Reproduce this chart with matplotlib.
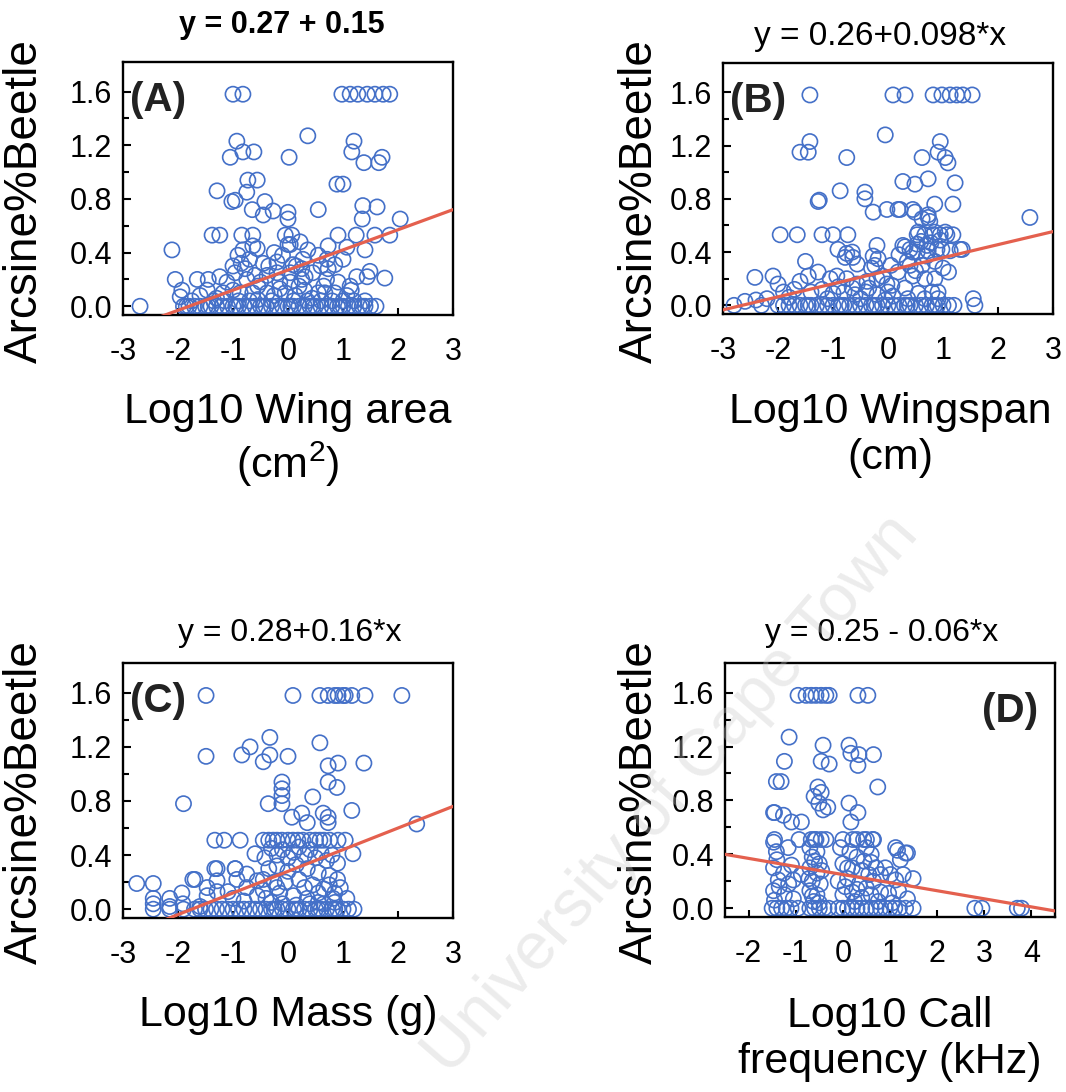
import numpy as np
import matplotlib
matplotlib.use("Agg")
from matplotlib import pyplot as plt

plt.rcParams["font.family"] = ["Liberation Sans", "DejaVu Sans"]
plt.rcParams["mathtext.default"] = "regular"
plt.rcParams["axes.unicode_minus"] = False

POINT_COLOR = "#4470c8"
LINE_COLOR = "#e4604e"

# (A) wing area
A_X = [-1.0, -0.82, 0.98, 1.13, 1.27, 1.44, 1.58, 1.73, 1.85,
       0.36, -0.93, -1.05, -0.82, -0.62, 0.02, 1.2, 1.16, 1.38, 1.65, 1.71,
       -1.29, -0.73, -0.56, -0.75, -1.02, -0.96, -0.65, -0.42, -0.45, -0.27,
       0.0, 0.0, 0.55, 0.89, 1.0, 1.36, 1.62, 1.35, 2.04,
       -1.38, -1.24, -0.84, -0.64, -0.05, 0.07, 0.91, 1.24, 1.58, 1.85,
       -2.11, -0.82, -0.91, -0.64, -0.56, 0.0, 0.22, 0.36, 0.04, 0.73, 1.07,
       1.4, 1.0, 0.71, 0.85, 0.27, 0.09, 0.31, 0.04, 0.04, 0.73, 0.91, 1.13,
       1.25, 1.44, 1.49, 1.76, 0.55, 0.67, 0.85, 1.07, 0.44, 0.13,
       -2.05, -1.65, -1.45, -1.24, -1.11, -1.0, -0.96, -0.78, -0.75, -0.6,
       -0.5, -0.38, -0.2, -1.93, -1.96, -1.47, -1.18, -1.0, -0.87, -0.64,
       -0.38, -0.15, -0.2, -0.35, -0.45, 0.15, 0.25, -0.25, -0.1, 0.55, 0.6,
       0.45, -0.7, -0.85, 0.3, -0.25, -0.55, -1.3, -1.6, 0.7, 0.2, -0.05,
       -1.75, -1.35, -1.15, -0.9, -0.7, -0.3, 0.1, 0.35, 0.6, 0.8, 1.0,
       1.2, 1.4, -0.55, -0.15, 0.25, 0.65, 1.15]
A_Y = [1.58, 1.58, 1.58, 1.58, 1.58, 1.58, 1.58, 1.58, 1.58,
       1.27, 1.23, 1.11, 1.15, 1.15, 1.11, 1.23, 1.15, 1.07, 1.07, 1.11,
       0.86, 0.94, 0.94, 0.85, 0.78, 0.79, 0.72, 0.78, 0.68, 0.71,
       0.70, 0.65, 0.72, 0.91, 0.91, 0.75, 0.74, 0.65, 0.65,
       0.53, 0.53, 0.53, 0.53, 0.53, 0.53, 0.53, 0.53, 0.53, 0.53,
       0.42, 0.42, 0.38, 0.45, 0.43, 0.46, 0.48, 0.42, 0.46, 0.45, 0.44,
       0.42, 0.35, 0.35, 0.31, 0.35, 0.31, 0.22, 0.25, 0.18, 0.28, 0.18, 0.15,
       0.22, 0.22, 0.26, 0.21, 0.10, 0.10, 0.10, 0.08, 0.06, 0.08,
       0.20, 0.20, 0.20, 0.22, 0.18, 0.30, 0.25, 0.28, 0.20, 0.23,
       0.18, 0.23, 0.25, 0.12, 0.07, 0.12, 0.10, 0.12, 0.10, 0.10,
       0.10, 0.13, 0.33, 0.30, 0.32, 0.30, 0.28, 0.40, 0.38, 0.38, 0.30,
       0.25, 0.35, 0.32, 0.12, 0.08, 0.05, 0.06, 0.08, 0.20, 0.15, 0.10,
       0.04, 0.04, 0.04, 0.04, 0.04, 0.04, 0.04, 0.04, 0.04, 0.04, 0.04,
       0.04, 0.04, 0.15, 0.18, 0.20, 0.15, 0.12]
A_ZERO = [-2.69, -1.9, -1.8, -1.7, -1.6, -1.5, -1.4, -1.3, -1.2, -1.1, -1.0,
          -0.9, -0.8, -0.7, -0.6, -0.5, -0.4, -0.3, -0.2, -0.1, 0.0, 0.1,
          0.2, 0.3, 0.4, 0.5, 0.6, 0.7, 0.8, 0.9, 1.0, 1.1, 1.2, 1.3, 1.4,
          1.5, 1.6, -1.85, -1.45, -0.95, -0.45, 0.05, 0.45, 0.95, 1.35]

# (B) wingspan
B_X = [-1.42, 0.09, 0.31, 0.82, 0.98, 1.13, 1.25, 1.36, 1.53,
       -0.05, -1.42, -1.6, -1.45, -0.75, 0.95, 0.91, 1.04, 1.09, 0.62,
       -0.87, -1.27, -1.25, -0.42, -0.42, -0.27, -0.02, 0.22, 0.45, 0.49,
       0.27, 0.49, 0.73, 1.22, 0.85, 1.18, 0.73, 0.76, 2.58, 0.18, 0.62, 0.73,
       -1.96, -1.65, -1.2, -1.0, -0.73, 0.53, 0.67, 0.82, 0.95, 1.07, 1.18,
       0.55, 0.85, 1.04,
       -0.91, -0.75, -0.64, -0.56, -0.27, -0.2, -0.18, 0.27, 0.4, 0.53, 0.71,
       0.89, 1.13, 1.31, -0.78, -0.65, -0.24, 1.35, 0.31, 0.53, 0.45, 0.73,
       0.98, 0.35, 0.62, 0.85, 1.0, 0.18, 0.45, 0.67, 0.85, 0.07, 0.31, 0.55,
       0.8, 0.91, 0.09, 0.36, 0.67, 0.91, 1.55,
       -2.42, -2.09, -2.0, -1.5, -1.45, -1.6, -1.27, -1.05, -0.93, -0.75,
       -0.56, -0.38, -0.2, -0.02, -2.6, -2.4, -2.2, -1.9, -1.7, -1.4, -1.2,
       -1.0, -0.8, -0.6, -0.4, -0.2, 0.0, -1.8, -1.1, -0.5, -0.3, 0.05, -0.1,
       0.6, 0.78, 0.95, 0.4, 0.7, 0.2, 0.5, -0.9, -0.65, -0.35, -0.05, 1.1]
B_Y = [1.58, 1.58, 1.58, 1.58, 1.58, 1.58, 1.58, 1.58, 1.58,
       1.28, 1.23, 1.15, 1.15, 1.11, 1.23, 1.15, 1.11, 1.07, 1.11,
       0.86, 0.78, 0.79, 0.85, 0.80, 0.70, 0.72, 0.72, 0.72, 0.70,
       0.93, 0.91, 0.95, 0.92, 0.76, 0.76, 0.66, 0.63, 0.66, 0.72, 0.65, 0.68,
       0.53, 0.53, 0.53, 0.53, 0.53, 0.53, 0.53, 0.53, 0.53, 0.53, 0.53,
       0.55, 0.55, 0.55,
       0.42, 0.39, 0.36, 0.31, 0.37, 0.45, 0.35, 0.45, 0.42, 0.40, 0.45,
       0.42, 0.41, 0.42, 0.36, 0.40, 0.30, 0.42, 0.44, 0.46, 0.40, 0.41,
       0.42, 0.33, 0.30, 0.33, 0.28, 0.25, 0.22, 0.20, 0.20, 0.15, 0.13, 0.09,
       0.10, 0.10, 0.07, 0.05, 0.05, 0.05, 0.05,
       0.21, 0.22, 0.16, 0.33, 0.22, 0.18, 0.25, 0.20, 0.22, 0.20,
       0.16, 0.18, 0.20, 0.16, 0.03, 0.04, 0.05, 0.10, 0.12, 0.10, 0.12,
       0.09, 0.10, 0.08, 0.10, 0.08, 0.10, 0.06, 0.05, 0.05, 0.28, 0.30, 0.22,
       0.48, 0.47, 0.49, 0.30, 0.37, 0.38, 0.26, 0.14, 0.13, 0.13, 0.04, 0.25]
B_ZERO = [-2.8, -2.3, -2.0, -1.9, -1.8, -1.7, -1.6, -1.5, -1.4, -1.3, -1.2,
          -1.1, -1.0, -0.9, -0.8, -0.7, -0.6, -0.5, -0.4, -0.3, -0.2, -0.1,
          0.0, 0.1, 0.2, 0.3, 0.4, 0.5, 0.6, 0.7, 0.8, 0.9, 1.0, 1.1, 1.2,
          1.58, -1.45, -0.85, -0.25, 0.35, 0.85]

# (C) mass
C_X = [-1.49, 0.09, 0.58, 0.73, 0.85, 0.91, 1.0, 1.04, 1.16, 1.4, 2.07,
       -1.49, -0.84, -0.69, -0.45, -0.33, -0.33, 0.0, 0.58, 0.73, 0.91, 1.38,
       -0.11, -0.11, -0.11, -0.11, -0.36, -1.9, 0.73, 0.89, 0.45, 0.07, 0.25,
       0.35, 0.64, 0.73, 0.73, 1.16, 2.34,
       -1.33, -1.16, -0.87, -0.45, -0.27, -0.11, 0.09, 0.27, 0.58, 0.76, 0.91,
       1.04, -0.35, -0.2, 0.0, 0.18, 0.4, 0.5, 0.65,
       1.18, -1.33, -0.96, -1.69, -0.6, -0.42, -0.3, -0.2, -0.1, 0.0, 0.1,
       0.2, 0.3, 0.4, 0.5, 0.6, 0.7, 0.8, 0.9, -0.35, -0.2, 0.0, 0.15, 0.35,
       0.55, 0.75, 0.9, -0.45, -0.25, -0.05, 0.2, 0.45, 0.65, 0.85, 1.07,
       0.82, -0.15, 0.1, 0.35, 0.55,
       -2.75, -2.45, -2.45, -2.45, -2.15, -2.15, -1.93, -1.91, -1.73, -1.47,
       -1.47, -1.6, -1.29, -1.29, -1.29, -1.09, -0.96, -0.93, -0.75, -0.75,
       -0.56, -0.56, -1.0, -0.8, -0.4,
       -0.3, -0.1, 0.15, 0.4, 0.65, 0.85, -0.45, -0.2, 0.3, 0.55, 0.75, 0.95]
C_Y = [1.58, 1.58, 1.58, 1.58, 1.58, 1.58, 1.58, 1.58, 1.58, 1.58, 1.58,
       1.13, 1.14, 1.20, 1.09, 1.27, 1.14, 1.13, 1.23, 1.06, 1.08, 1.08,
       0.94, 0.89, 0.84, 0.78, 0.78, 0.78, 0.94, 0.90, 0.83, 0.68, 0.71,
       0.64, 0.71, 0.68, 0.64, 0.73, 0.63,
       0.51, 0.51, 0.51, 0.51, 0.51, 0.51, 0.51, 0.51, 0.51, 0.51, 0.51,
       0.51, 0.51, 0.51, 0.51, 0.51, 0.51, 0.51, 0.51,
       0.41, 0.30, 0.30, 0.22, 0.41, 0.38, 0.45, 0.40, 0.44, 0.38, 0.42,
       0.46, 0.40, 0.44, 0.38, 0.42, 0.36, 0.40, 0.34, 0.30, 0.32, 0.28, 0.33,
       0.30, 0.27, 0.25, 0.22, 0.22, 0.20, 0.20, 0.22, 0.18, 0.15, 0.12, 0.08,
       0.08, 0.12, 0.10, 0.08, 0.05,
       0.19, 0.19, 0.08, 0.04, 0.08, 0.02, 0.12, 0.04, 0.22, 0.16,
       0.10, 0.02, 0.30, 0.21, 0.13, 0.13, 0.30, 0.22, 0.26, 0.16,
       0.21, 0.10, 0.08, 0.06, 0.08,
       0.05, 0.04, 0.03, 0.04, 0.04, 0.05, 0.14, 0.16, 0.16, 0.12, 0.18, 0.16]
C_ZERO = [-2.45, -2.15, -1.9, -1.7, -1.6, -1.5, -1.4, -1.3, -1.2, -1.1, -1.0,
          -0.9, -0.8, -0.7, -0.6, -0.5, -0.4, -0.3, -0.2, -0.1, 0.0, 0.1,
          0.2, 0.3, 0.4, 0.5, 0.6, 0.7, 0.8, 0.9, 1.0, 1.1, 1.2,
          -0.25, 0.15, 0.55, 0.85]

# (D) call frequency
D_X = [-0.95, -0.78, -0.67, -0.57, -0.46, -0.36, -0.29, 0.32, 0.53,
       -1.14, -1.24, -0.42, -0.46, -0.29, 0.13, 0.17, 0.34, 0.32, 0.65, 0.74,
       -1.41, -1.31, -0.53, -0.46, -0.61, -0.51, -0.42, -0.32, 0.13, 0.32,
       0.17, -1.47, -1.45, -1.26, -1.09, -0.88,
       -1.45, -0.93, -0.67, -0.57, -0.46, -0.36, 0.0, 0.21, 0.44, 0.63, 0.65,
       -0.6, 0.3, 0.5,
       1.12, 1.33, -1.47, -1.41, -1.16, -1.47, -1.26, -1.09, -1.37, -1.05,
       -0.88, -1.47, -1.24, -1.45, -1.05, 0.1, 1.16, 1.37, 1.22, 1.01, 1.28,
       1.49, 1.12, 0.97, 1.18, 1.37, 1.05,
       -0.7, -0.55, -0.65, -0.5, -0.7, -0.55, -0.65, -0.48, -0.7, -0.55,
       -0.62, -0.5, -0.72,
       -0.05, 0.15, 0.3, 0.5, 0.6, 0.0, 0.2, 0.4, 0.55, 0.7, -0.1, 0.1, 0.35,
       0.5, 0.65, 0.8, 0.9, 0.0, 0.2, 0.4, 0.6, 0.8, 0.25, 0.75,
       -1.35, -1.15, -0.6, -0.45, 0.05, 0.45, -1.4, -0.65, 0.3, 0.6]
D_Y = [1.58, 1.58, 1.58, 1.58, 1.58, 1.58, 1.58, 1.58, 1.58,
       1.27, 1.09, 1.21, 1.09, 1.07, 1.21, 1.15, 1.14, 1.06, 1.14, 0.90,
       0.94, 0.94, 0.90, 0.86, 0.83, 0.78, 0.73, 0.75, 0.78, 0.71,
       0.64, 0.71, 0.71, 0.69, 0.64, 0.64,
       0.51, 0.51, 0.51, 0.51, 0.51, 0.51, 0.51, 0.51, 0.51, 0.51, 0.51,
       0.51, 0.51, 0.51,
       0.45, 0.41, 0.49, 0.42, 0.45, 0.30, 0.26, 0.32, 0.21, 0.21,
       0.25, 0.13, 0.10, 0.06, 0.07, 0.30, 0.43, 0.41, 0.36, 0.25, 0.25,
       0.22, 0.21, 0.11, 0.13, 0.07, 0.04,
       0.45, 0.42, 0.38, 0.33, 0.30, 0.26, 0.20, 0.18, 0.13, 0.10,
       0.05, 0.04, 0.22,
       0.45, 0.42, 0.38, 0.45, 0.40, 0.33, 0.30, 0.28, 0.25, 0.30, 0.20, 0.22,
       0.18, 0.15, 0.20, 0.25, 0.30, 0.10, 0.12, 0.08, 0.10, 0.12, 0.05, 0.05,
       0.16, 0.18, 0.35, 0.28, 0.16, 0.35, 0.36, 0.09, 0.14, 0.34]
D_ZERO = [-1.5, -1.4, -1.3, -1.2, -1.1, -0.95, -0.7, -0.6, -0.5, -0.4, -0.3,
          -0.1, 0.0, 0.1, 0.2, 0.3, 0.4, 0.5, 0.6, 0.7, 0.8, 0.9, 1.0, 1.1,
          1.2, 1.33, 1.49, 2.8, 2.95, 3.7, 3.79]

INTERCEPTS = [0.27, 0.26, 0.28, 0.25]
SLOPES = [0.15, 0.098, 0.16, -0.06]
TITLES = ["y = 0.27 + 0.15", "y = 0.26+0.098*x", "y = 0.28+0.16*x", "y = 0.25 - 0.06*x"]
TAGS = ["(A)", "(B)", "(C)", "(D)"]
XLABELS = ["Log10 Wing area\n(cm$^2$)", "Log10 Wingspan\n(cm)",
           "Log10 Mass (g)", "Log10 Call\nfrequency (kHz)"]
YLABEL = "Arcsine%Beetle"

W, H = 1066, 1092


def fx(px):
    return px / W


def fy(py):
    return 1 - py / H


def draw_panel(ax, xs, ys, zeros, a, b, xlim, xticks, tag, tag_right=False):
    x = np.concatenate([xs, zeros])
    y = np.concatenate([ys, np.zeros(len(zeros))])
    ax.scatter(x, y, s=120, facecolors="none", edgecolors=POINT_COLOR,
               linewidths=1.2, zorder=2)
    line_x = np.linspace(xlim[0], xlim[1], 50)
    ax.plot(line_x, a + b * line_x, color=LINE_COLOR, lw=2.3, zorder=3)
    ax.set_xlim(*xlim)
    ax.set_ylim(-0.065, 1.82)
    ax.set_xticks(xticks)
    ax.set_xticklabels([str(t) for t in xticks])
    ax.set_yticks([0.0, 0.4, 0.8, 1.2, 1.6])
    ax.set_yticklabels(["0.0", "0.4", "0.8", "1.2", "1.6"])
    ax.set_yticks([0.2, 0.6, 1.0, 1.4], minor=True)
    ax.tick_params(axis="both", which="both", direction="in", width=1.5,
                   labelsize=22, top=False, right=False)
    ax.tick_params(axis="y", which="major", length=6, pad=8)
    ax.tick_params(axis="y", which="minor", length=4)
    ax.tick_params(axis="x", which="major", length=5, pad=16)
    for sp in ax.spines.values():
        sp.set_linewidth(1.7)
    if tag_right:
        ax.text(0.95, 0.81, tag, transform=ax.transAxes, ha="right",
                va="center", fontsize=29, fontweight="bold", color="#222222")
    else:
        ax.text(0.02, 0.85, tag, transform=ax.transAxes, ha="left",
                va="center", fontsize=29, fontweight="bold", color="#222222")


def main():
    fig = plt.figure(figsize=(W / 100, H / 100), dpi=100)

    boxes = [(123, 62, 453, 315), (723, 63, 1053, 314),
             (123, 663, 453, 918), (725, 663, 1055, 917)]
    axes = []
    for l, t, r, btm in boxes:
        axes.append(fig.add_axes([fx(l), fy(btm), fx(r - l), (btm - t) / H]))

    data = [(A_X, A_Y, A_ZERO), (B_X, B_Y, B_ZERO),
            (C_X, C_Y, C_ZERO), (D_X, D_Y, D_ZERO)]
    xlims = [(-3, 3), (-3, 3), (-3, 3), (-2.5, 4.5)]
    xticks = [[-3, -2, -1, 0, 1, 2, 3]] * 3 + [[-2, -1, 0, 1, 2, 3, 4]]

    for i, ax in enumerate(axes):
        xs, ys, zeros = data[i]
        draw_panel(ax, xs, ys, zeros, INTERCEPTS[i], SLOPES[i], xlims[i],
                   xticks[i], TAGS[i], tag_right=(i == 3))

    # equations above each panel
    title_pos = [(282, 25), (880, 37), (290, 633), (882, 633)]
    title_size = [22, 24, 23, 23]
    for i, (px, py) in enumerate(title_pos):
        fig.text(fx(px), fy(py), TITLES[i], ha="center", va="center",
                 fontsize=title_size[i],
                 fontweight="bold" if i == 0 else "normal")

    # y labels
    for px, py in [(25, 201), (640, 201), (25, 802), (640, 802)]:
        fig.text(fx(px), fy(py), YLABEL, rotation=90, ha="center",
                 va="center", fontsize=33)

    # x labels
    xlab_pos = [(288, 392), (890, 392), (288, 995), (890, 996)]
    for i, (px, py) in enumerate(xlab_pos):
        fig.text(fx(px), fy(py), XLABELS[i], ha="center", va="top",
                 fontsize=31, linespacing=1.2)

    fig.text(fx(672), fy(795), "University of Cape Town", rotation=49,
             ha="center", va="center", fontsize=48, color="#c8c8c8",
             alpha=0.35, zorder=10)

    fig.savefig("out.png", dpi=100)


if __name__ == "__main__":
    main()
